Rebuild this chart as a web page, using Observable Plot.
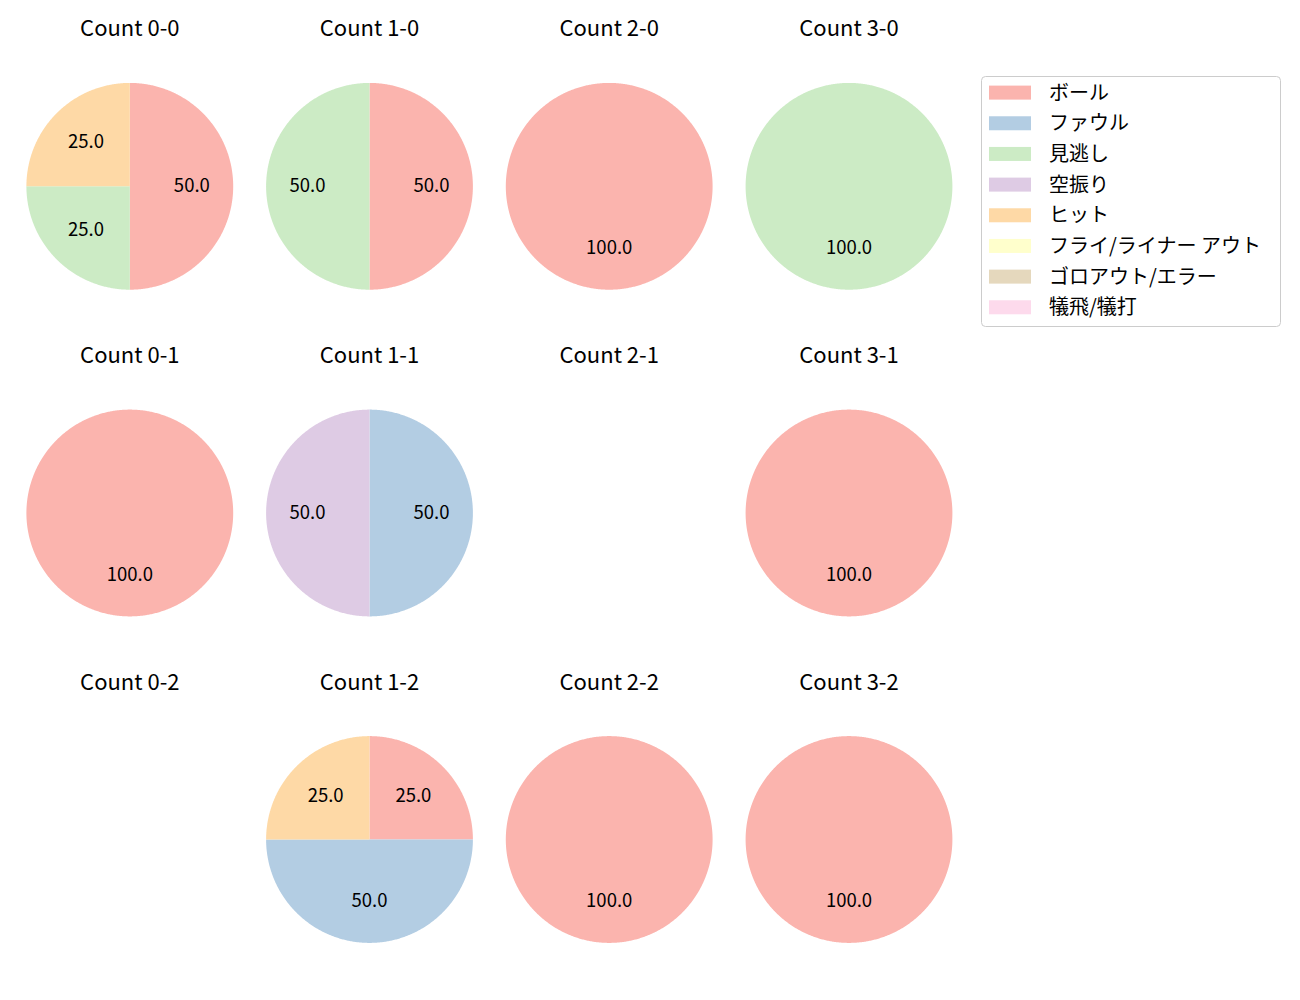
<!DOCTYPE html>
<html><head><meta charset="utf-8">
<script src="https://cdn.jsdelivr.net/npm/d3@7"></script>
<script src="https://cdn.jsdelivr.net/npm/@observablehq/plot@0.6"></script>
<style>body{margin:0;background:#fff}</style>
</head><body><div id="chart"></div>
<script>
// ---- data ----
const categories = ["ボール","ファウル","見逃し","空振り","ヒット","フライ/ライナー アウト","ゴロアウト/エラー","犠飛/犠打"];
const colors = ["#fbb4ae","#b3cde3","#ccebc5","#decbe4","#fed9a6","#ffffcc","#e5d8bd","#fddaec"];
const panels = ["Count 0-0","Count 1-0","Count 2-0","Count 3-0","Count 0-1","Count 1-1","Count 2-1","Count 3-1","Count 0-2","Count 1-2","Count 2-2","Count 3-2"];
const ball   = [50, 50, 100,   0, 100,  0, 0, 100, 0, 25, 100, 100];
const foul   = [ 0,  0,   0,   0,   0, 50, 0,   0, 0, 50,   0,   0];
const called = [25, 50,   0, 100,   0,  0, 0,   0, 0,  0,   0,   0];
const swing  = [ 0,  0,   0,   0,   0, 50, 0,   0, 0,  0,   0,   0];
const hit    = [25,  0,   0,   0,   0,  0, 0,   0, 0, 25,   0,   0];
const flyout = [ 0,  0,   0,   0,   0,  0, 0,   0, 0,  0,   0,   0];
const ground = [ 0,  0,   0,   0,   0,  0, 0,   0, 0,  0,   0,   0];
const sac    = [ 0,  0,   0,   0,   0,  0, 0,   0, 0,  0,   0,   0];
const series = [ball, foul, called, swing, hit, flyout, ground, sac];

// ---- layout ----
const colX = [129.3, 369, 608.7, 848.5];
const rowY = [185.8, 512.5, 839];
const titleOffset = 157;
const R = 103.4;
const FONT = "'Noto Sans CJK JP', 'Noto Sans', sans-serif";

const polys = [], labels = [], titles = [];
panels.forEach((title, p) => {
  const cx = colX[p % 4], cy = rowY[Math.floor(p / 4)];
  titles.push({x: cx, y: cy - titleOffset, text: title});
  const vals = series.map(s => s[p]);
  const total = d3.sum(vals);
  if (!total) return;
  let a0 = 0;
  vals.forEach((v, c) => {
    if (!v) return;
    const a1 = a0 + (v / total) * 2 * Math.PI;
    const key = p + "-" + c;
    polys.push({key, cat: categories[c], x: cx, y: cy});
    const n = Math.max(2, Math.ceil((a1 - a0) / (Math.PI / 360)));
    for (let k = 0; k <= n; k++) {
      const a = a0 + (a1 - a0) * k / n;
      polys.push({key, cat: categories[c], x: cx + R * Math.sin(a), y: cy - R * Math.cos(a)});
    }
    const am = (a0 + a1) / 2;
    labels.push({x: cx + 0.6 * R * Math.sin(am), y: cy - 0.6 * R * Math.cos(am), text: (100 * v / total).toFixed(1)});
    a0 = a1;
  });
});

const legX1 = 989, legX2 = 1031, legTextX = 1048.5, legY0 = 92.6, legDY = 30.67;

const chart = Plot.plot({
  width: 1300, height: 1000,
  margin: 0,
  x: {domain: [0, 1300], range: [0, 1300], axis: null},
  y: {domain: [0, 1000], range: [0, 1000], axis: null},
  color: {domain: categories, range: colors},
  style: {fontFamily: FONT, background: "#fff", color: "#000"},
  marks: [
    Plot.line(polys, {x: "x", y: "y", z: "key", fill: "cat", stroke: null, curve: "linear-closed"}),
    Plot.text(labels, {x: "x", y: "y", text: "text", fontSize: 18.5, fill: "#000", lineAnchor: "middle"}),
    Plot.text(titles, {x: "x", y: "y", text: "text", fontSize: 22, fill: "#000", lineAnchor: "middle"}),
    Plot.rect([0], {x1: 981.5, x2: 1280.5, y1: 76.5, y2: 326.5, rx: 4, fill: "#fff", fillOpacity: 0.8, stroke: "#cccccc", strokeWidth: 1}),
    Plot.rect(categories, {x1: legX1, x2: legX2, y1: (d, i) => legY0 + i * legDY - 7, y2: (d, i) => legY0 + i * legDY + 7, fill: d => d}),
    Plot.text(categories, {x: legTextX, y: (d, i) => legY0 + i * legDY, text: d => d, textAnchor: "start", lineAnchor: "middle", fontSize: 20, fill: "#000"})
  ]
});
document.getElementById("chart").appendChild(chart);
</script>
</body></html>
